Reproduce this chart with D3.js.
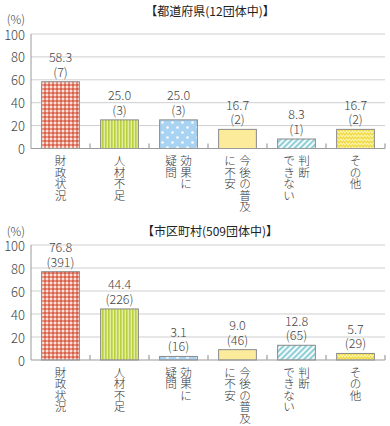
<!DOCTYPE html>
<html>
  <head>
    <meta charset="UTF-8">
    <title>団体別 課題</title>
    <script src="https://cdnjs.cloudflare.com/ajax/libs/d3/7.8.5/d3.min.js"></script>
    <style>
      body { margin: 0; background: #fff; }
      svg { display: block; font-family: "Noto Sans CJK JP", "Noto Sans", sans-serif; font-weight: 300; }
    </style>
  </head>
  <body>
    <svg id="chart" width="390" height="426"></svg>
    <script>
      // categories (columns of vertical text, right column first)
      const categories = ["財政状況", "人材不足", "効果に疑問", "今後の普及に不安", "判断できない", "その他"];
      const categoryColumns = [["財政状況"], ["人材不足"], ["効果に", "疑問"], ["今後の普及", "に不安"], ["判断", "できない"], ["その他"]];
      const yTicks = [0, 20, 40, 60, 80, 100];

      const prefTitle = "【都道府県(12団体中)】";
      const prefValues = [58.3, 25.0, 25.0, 16.7, 8.3, 16.7];
      const prefCounts = [7, 3, 3, 2, 1, 2];

      const cityTitle = "【市区町村(509団体中)】";
      const cityValues = [76.8, 44.4, 3.1, 9.0, 12.8, 5.7];
      const cityCounts = [391, 226, 16, 46, 65, 29];

      const svg = d3.select("#chart");
      const defs = svg.append("defs");

      // fill patterns
      function pattern(id, w, h, bg) {
        const p = defs.append("pattern").attr("id", id)
          .attr("patternUnits", "userSpaceOnUse").attr("width", w).attr("height", h);
        p.append("rect").attr("width", w).attr("height", h).attr("fill", bg);
        return p;
      }
      let p = pattern("p0", 4, 4, "#fbe3dc");
      p.append("rect").attr("x", 0).attr("y", 0).attr("width", 2).attr("height", 4).attr("fill", "#e8907e");
      p.append("rect").attr("x", 0).attr("y", 0).attr("width", 4).attr("height", 2).attr("fill", "#e8907e");
      p.append("rect").attr("x", 0).attr("y", 0).attr("width", 2).attr("height", 2).attr("fill", "#d9604c");

      p = pattern("p1", 3, 3, "#e4eea0");
      p.append("rect").attr("width", 1.6).attr("height", 3).attr("fill", "#b9d13e");

      p = pattern("p2", 10, 10, "#a9d3f3");
      p.append("circle").attr("cx", 2.5).attr("cy", 2.5).attr("r", 1.3).attr("fill", "#fff");
      p.append("circle").attr("cx", 7.5).attr("cy", 7.5).attr("r", 1.3).attr("fill", "#fff");

      p = pattern("p4", 4, 4, "#ffffff").attr("patternTransform", "rotate(45)");
      p.append("rect").attr("width", 2.2).attr("height", 4).attr("fill", "#8fcfd8");

      p = pattern("p5", 6, 4, "#faf1a4");
      p.append("path").attr("d", "M0,3 L1.5,1 L3,3 L4.5,1 L6,3").attr("fill", "none")
        .attr("stroke", "#efd93c").attr("stroke-width", 1.2);

      const fills = ["url(#p0)", "url(#p1)", "url(#p2)", "#fdeb9c", "url(#p4)", "url(#p5)"];

      const x = d3.scaleBand().domain(categories).range([31, 385])
        .paddingInner(0.36).paddingOuter(0.18);

      function drawChart(top, bottom, title, values, counts, titleY, pctY) {
        const y = d3.scaleLinear().domain([0, 100]).range([bottom, top]);
        const g = svg.append("g");

        g.append("text").attr("x", 210).attr("y", titleY)
          .attr("text-anchor", "middle").attr("dominant-baseline", "central")
          .attr("font-size", 12).attr("font-weight", 400).attr("fill", "#222").text(title);

        g.append("text").attr("x", 25).attr("y", pctY)
          .attr("text-anchor", "end").attr("dominant-baseline", "central")
          .attr("font-size", 12).attr("fill", "#444").text("(%)");

        // grid
        g.selectAll(".grid").data(yTicks.slice(1)).join("line")
          .attr("x1", 31).attr("x2", 385)
          .attr("y1", d => y(d)).attr("y2", d => y(d))
          .attr("stroke", "#cfcfcf").attr("stroke-width", 1);

        g.selectAll(".ytick").data(yTicks).join("text")
          .attr("x", 25).attr("y", d => y(d))
          .attr("text-anchor", "end").attr("dominant-baseline", "central")
          .attr("font-size", 13).attr("fill", "#444").text(d => d);

        // bars
        g.selectAll(".bar").data(values).join("rect")
          .attr("x", (d, i) => x(categories[i]))
          .attr("y", d => y(d))
          .attr("width", x.bandwidth())
          .attr("height", d => y(0) - y(d))
          .attr("fill", (d, i) => fills[i])
          .attr("stroke", "#8a8a8a").attr("stroke-width", 1);

        // axes
        g.append("line").attr("x1", 31).attr("x2", 31).attr("y1", y(100)).attr("y2", y(0))
          .attr("stroke", "#9a9a9a");
        g.append("line").attr("x1", 31).attr("x2", 385).attr("y1", y(0)).attr("y2", y(0))
          .attr("stroke", "#9a9a9a");
        g.selectAll(".ctick").data(categories).join("line")
          .attr("x1", d => x(d) - x.step() * 0.18 + x.step()).attr("x2", d => x(d) - x.step() * 0.18 + x.step())
          .attr("y1", y(0)).attr("y2", y(0) - 5)
          .attr("stroke", "#b0b0b0").attr("stroke-width", 1.5);

        // value labels
        const cx = i => x(categories[i]) + x.bandwidth() / 2;
        g.selectAll(".val").data(values).join("text")
          .attr("x", (d, i) => cx(i)).attr("y", d => y(d) - 19.5)
          .attr("text-anchor", "middle").attr("font-size", 12.5).attr("fill", "#444")
          .text(d => d.toFixed(1));
        g.selectAll(".cnt").data(counts).join("text")
          .attr("x", (d, i) => cx(i)).attr("y", (d, i) => y(values[i]) - 5)
          .attr("text-anchor", "middle").attr("font-size", 12.5).attr("fill", "#444")
          .text(d => "(" + d + ")");

        // vertical category labels, one character per text
        categoryColumns.forEach((cols, i) => {
          const center = cx(i);
          cols.forEach((col, j) => {
            const colX = cols.length === 1 ? center : center + (j === 0 ? 7.5 : -7.5);
            Array.from(col).forEach((ch, k) => {
              g.append("text").attr("x", colX).attr("y", y(0) + 11.5 + k * 11.6)
                .attr("text-anchor", "middle").attr("dominant-baseline", "central")
                .attr("font-size", 11.6).attr("fill", "#333").text(ch);
            });
          });
        });
      }

      drawChart(34, 148.5, prefTitle, prefValues, prefCounts, 10, 18);
      drawChart(245, 360, cityTitle, cityValues, cityCounts, 230, 230);
    </script>
  </body>
</html>
